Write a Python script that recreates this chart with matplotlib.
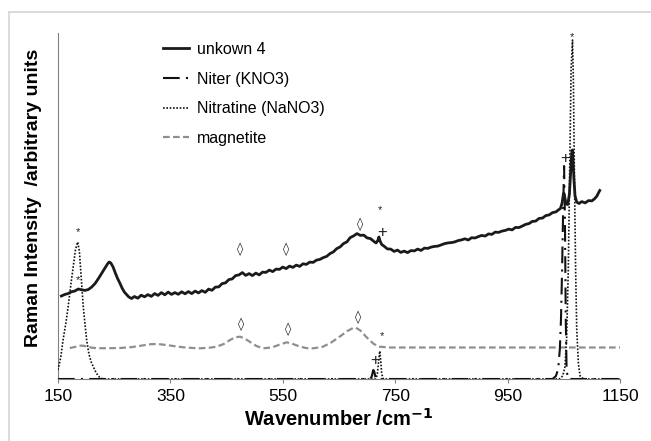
import matplotlib
matplotlib.use("Agg")
import matplotlib.pyplot as plt
from matplotlib.lines import Line2D

plt.rcParams['font.family'] = ['Liberation Sans', 'DejaVu Sans']

# ---------------- data ----------------
unknown_x = [156, 162, 168, 174, 180, 186, 192, 198, 204, 210, 216, 222, 228, 234, 238, 241, 244, 248,
             252, 256, 260, 264, 268, 272, 276, 281, 286, 292, 298, 304, 310, 316, 322, 328, 334, 340,
             346, 352, 358, 364, 370, 376, 382, 388, 394, 400, 406, 412, 418, 424, 430, 436, 442, 448,
             454, 460, 466, 472, 478, 484, 490, 496, 502, 508, 514, 520, 526, 532, 538, 544, 550, 556,
             562, 568, 574, 580, 586, 592, 598, 604, 610, 616, 622, 628, 634, 640, 646, 652, 658, 664,
             670, 676, 682, 688, 694, 700, 706, 712, 716, 719, 721, 723, 726, 730, 736, 742, 748, 754,
             760, 766, 772, 778, 784, 790, 796, 802, 808, 814, 820, 826, 832, 838, 844, 850, 856, 862,
             868, 874, 880, 886, 892, 898, 904, 910, 916, 922, 928, 934, 940, 946, 952, 958, 964, 970,
             976, 982, 988, 994, 1000, 1006, 1012, 1018, 1024, 1030, 1036, 1040, 1044, 1047, 1049, 1050,
             1052, 1054, 1057, 1060, 1062, 1064, 1065, 1066, 1068, 1070, 1073, 1077, 1082, 1088, 1094,
             1100, 1105, 1109, 1112, 1114]
unknown_y = [83.0, 84.5, 85.5, 87.2, 88.0, 90.0, 89.2, 88.6, 89.5, 92.0, 95.5, 100.5, 106.0, 111.5, 115.0,
             117.0, 116.0, 112.0,
             106.0, 100.5, 96.0, 91.0, 87.0, 84.5, 82.0, 80.5, 82.5, 80.8, 83.8, 82.2, 84.4, 82.6, 85.4,
             83.6, 86.4, 84.2,
             86.9, 84.6, 86.4, 84.7, 87.2, 85.2, 87.4, 85.4, 87.9, 86.1, 88.4, 86.7, 89.9, 88.7, 91.9,
             92.1, 95.4, 96.1,
             99.4, 100.1, 103.4, 104.1, 106.4, 103.6, 105.4, 103.4, 105.9, 104.1, 106.9, 106.6, 108.9,
             107.4, 109.9, 109.6, 111.9, 110.4,
             112.9, 111.6, 113.9, 112.6, 115.2, 114.6, 116.9, 116.6, 118.9, 119.6, 121.4, 122.6, 125.4,
             127.1, 130.4, 132.1, 135.4, 137.1,
             141.4, 143.1, 145.4, 143.6, 143.9, 141.1, 140.4, 137.6, 136.0, 138.5, 142.0, 138.0, 134.5,
             132.9, 130.1, 129.9, 127.6, 128.9,
             126.6, 127.9, 126.4, 128.4, 128.1, 129.9, 128.6, 130.9, 130.6, 131.9, 132.6, 132.9, 134.1,
             135.4, 136.1, 136.4, 137.1, 138.4,
             139.1, 140.2, 139.0, 141.3, 141.0, 142.4, 143.6, 142.9, 145.1, 144.6, 146.9, 146.6, 147.9,
             148.6, 149.9, 149.1, 151.6, 151.4,
             152.9, 154.6, 155.4, 157.6, 157.9, 160.6, 160.9, 163.4, 164.1, 166.4, 167.1, 168.9, 170.5,
             176.0, 184.0, 186.0,
             181.0, 175.0, 174.5, 185.0, 205.0, 225.0, 229.0, 224.0, 200.0, 183.0, 177.0, 175.5, 177.4,
             176.1, 178.4,
             178.1, 180.4, 183.0, 186.5, 188.5]

niter_x = [150, 700, 704, 708, 711, 713, 715, 718, 1030, 1036, 1040, 1043, 1045, 1047, 1049, 1050.5,
           1052, 1053.5, 1055, 1058, 1150]
niter_y = [0, 0, 0, 2, 9, 7, 1, 0, 0, 3, 10, 30, 60, 110, 175, 213, 160, 60, 8, 0, 0]

nitratine_x = [150, 155, 159, 164, 168, 173, 177, 181, 185, 188, 192, 195, 198, 201, 205, 209, 213, 218,
               224, 230, 715, 718, 721, 722.5, 724, 726, 729, 1042, 1048, 1052, 1055, 1058, 1061, 1063,
               1065.5, 1067, 1069, 1071, 1073, 1076, 1079, 1085, 1150]
nitratine_y = [9, 22, 39, 56, 72, 95, 112, 129, 137, 128, 96, 72, 55, 39, 25, 17, 12, 6, 1.7, 0,
               0, 4, 20, 28, 20, 5, 0, 0, 3, 12, 40, 110, 230, 310, 339, 300, 200, 110, 50, 15, 3, 0, 0]

magnetite_x = [171, 180, 188, 194, 202, 210, 220, 240, 260, 280, 300, 315, 326, 340, 355, 373, 390, 403,
               420, 432, 445, 456, 466, 474, 482, 492, 503, 515, 530, 545, 557, 568, 580, 592, 604, 620,
               635, 651, 665, 675, 680, 688, 697, 704, 712, 722, 740, 1150]
magnetite_y = [31, 32, 33.3, 33.3, 32.5, 31.3, 30.8, 30.8, 31, 31.8, 33.5, 34.8, 35, 34.2, 33, 31.7, 31,
               30.7, 31.3, 32.3, 35, 39, 41.8, 42.3, 40.5, 37, 33, 30.7, 31.5, 34.5, 36.7, 35, 32.5, 30.9,
               30.7, 32, 36, 42.3, 48, 51, 51.3, 48.5, 43, 39, 35, 32.3, 31.5, 31.5]

series_labels = ['unkown 4', 'Niter (KNO3)', 'Nitratine (NaNO3)', 'magnetite']

# peak annotation symbols: (x, y, symbol)
mark_x = [474, 556, 687, 475, 560, 683, 185, 186, 723, 726, 726, 714, 1052, 1065]
mark_y = [130, 130, 155, 55, 50, 62, 147, 99, 169, 146, 43, 18, 221, 342]
mark_s = ['\u25ca', '\u25ca', '\u25ca', '\u25ca', '\u25ca', '\u25ca', '*', '*', '*', '+', '*', '+', '+', '*']

xticks = [150, 350, 550, 750, 950, 1150]

# ---------------- figure ----------------
fig = plt.figure(figsize=(6.51, 4.41), dpi=100)
ax = fig.add_axes([58 / 651, 1 - 379 / 441, 562 / 651, 346 / 441])

ax.plot(magnetite_x, magnetite_y, color='#8f8f8f', lw=1.6, linestyle=(0, (3, 1.5)),
        label=series_labels[3], zorder=2)
ax.plot(niter_x, niter_y, color='#111111', lw=1.5, linestyle=(0, (8, 3, 1, 3)),
        label=series_labels[1], zorder=3)
ax.plot(nitratine_x, nitratine_y, color='#111111', lw=1.2, linestyle=(0, (1, 1)),
        label=series_labels[2], zorder=3)
ax.plot(unknown_x, unknown_y, color='#1a1a1a', lw=2.0, label=series_labels[0], zorder=4)

for mx, my, ms in zip(mark_x, mark_y, mark_s):
    fam = ['DejaVu Sans'] if ms == '\u25ca' else ['Liberation Sans', 'DejaVu Sans']
    size = {'\u25ca': 9, '*': 8, '+': 12}[ms]
    ax.text(mx, my, ms, ha='center', va='center', fontsize=size, family=fam, color='#222222',
            zorder=5)

ax.set_xlim(150, 1150)
ax.set_ylim(0, 346)
ax.set_xticks(xticks)
ax.set_xticklabels([str(t) for t in xticks], fontsize=12.5)
ax.set_yticks([])
ax.tick_params(axis='x', length=3, width=0.8, color='#808080', pad=4)
for s in ['top', 'right']:
    ax.spines[s].set_visible(False)
for s in ['left', 'bottom']:
    ax.spines[s].set_color('#808080')
    ax.spines[s].set_linewidth(0.8)

ax.set_xlabel('Wavenumber /cm$^{\\mathbf{-1}}$', fontsize=14.5, fontweight='bold', labelpad=3)
fig.text(33.5 / 651, 1 - 198 / 441, 'Raman Intensity  /arbitrary units', rotation=90,
         ha='center', va='center', fontsize=14, fontweight='bold')

handles, labels = ax.get_legend_handles_labels()
order = [3, 1, 2, 0]
ax.legend([handles[i] for i in order], [labels[i] for i in order],
          loc='upper left', bbox_to_anchor=(163 / 651, 1 - 42 / 441),
          bbox_transform=fig.transFigure, frameon=False, fontsize=11.5,
          handlelength=1.6, handletextpad=0.5, labelspacing=0.92, borderpad=0,
          borderaxespad=0)

# light grey frame (top and left edges)
fig.add_artist(Line2D([9 / 651, 9 / 651], [0, 1 - 12 / 441], transform=fig.transFigure,
                      color='#d4d4d4', lw=1.2))
fig.add_artist(Line2D([9 / 651, 1], [1 - 12 / 441, 1 - 12 / 441], transform=fig.transFigure,
                      color='#d4d4d4', lw=1.2))

fig.savefig('out.png', dpi=100)
